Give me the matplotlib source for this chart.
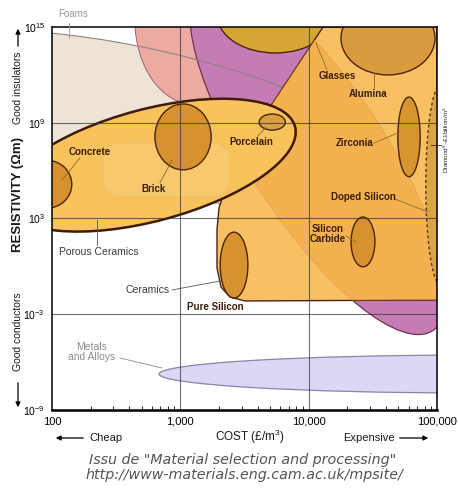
import numpy as np
import matplotlib
matplotlib.use("Agg")
import matplotlib.pyplot as plt
from matplotlib.patches import Ellipse, Polygon, FancyBboxPatch, FancyArrowPatch
from matplotlib.lines import Line2D
from matplotlib.ticker import LogLocator, NullLocator

plt.rcParams['font.family'] = ['Liberation Sans', 'DejaVu Sans']
plt.rcParams['mathtext.default'] = 'regular'

# ---------------- data ----------------
COST_TICKS = [100, 1000, 10000, 100000]
COST_TICK_LABELS = ['100', '1,000', '10,000', '100,000']
RES_TICKS = [1e-9, 1e-3, 1e3, 1e9, 1e15]
RES_TICK_LABELS = [r'$10^{-9}$', r'$10^{-3}$', r'$10^{3}$', r'$10^{9}$', r'$10^{15}$']
COST_LIM = [100, 100000]
RES_LIM = [1e-9, 1e15]

# material envelope centres: cost (GBP/m3), resistivity (Ohm m)
MATERIALS = ['Foams', 'Pink group', 'Purple group', 'Glasses', 'Alumina', 'Zirconia',
             'Diamond', 'Silicon Carbide', 'Pure Silicon', 'Porous Ceramics',
             'Concrete', 'Brick', 'Porcelain', 'Metals and Alloys']
COST_CENTRE = [580, 1300, 11800, 5500, 41500, 60500,
               107000, 26500, 2620, 580,
               91, 1050, 5200, 180000]
RES_CENTRE = [1.5e9, 2.7e15, 9.5e6, 5.6e15, 2e14, 1.3e8,
              1.26e5, 34, 1.2, 2.2e6,
              1.4e5, 1.3e8, 1.1e9, 1.8e-7]

# technical ceramics envelope outline (cost, resistivity)
CERAMICS_COST = [12950, 100000, 100000, 3190, 2440, 2075, 1930, 1930, 2000, 2230, 2920, 3820, 5000]
CERAMICS_RES = [1e15, 1e15, 7.8e-3, 6.8e-3, 1.2e-2, 5.1e-2, 0.79, 190, 4600, 6.1e4, 4.7e6, 3.5e8, 9.7e9]

# lighter zone inside porous ceramics (cost, resistivity corners)
POROUS_ZONE_COST = [250, 2440]
POROUS_ZONE_RES = [5.4e7, 2.2e4]

# ---------------- styles ----------------
# semi-axes (fraction of axes), angle, face, edge, lw, linestyle, zorder
STYLE = {
    'Foams':            (0.677, 0.182, -13, '#EEE3D7', 'none', 0, '-', 1),
    'Pink group':       (0.156, 0.221, 0, '#EDAAA2', '#9A6A60', 0.7, '-', 2),
    'Purple group':     (0.547, 0.177, -57, '#C57CB4', '#6B3550', 0.9, '-', 3),
    'Glasses':          (0.151, 0.099, 0, '#D6A632', '#4A2410', 1.0, '-', 4),
    'Alumina':          (0.122, 0.096, 0, '#D99B3E', '#4A2410', 1.0, '-', 6),
    'Zirconia':         (0.029, 0.104, 0, '#D6952F', '#4A2410', 1.0, '-', 6),
    'Diamond':          (0.039, 0.262, 0, '#DBA545', '#5A2E10', 1.0, (0, (2, 2)), 6),
    'Silicon Carbide':  (0.031, 0.065, 0, '#D6922F', '#4A2410', 1.0, '-', 6),
    'Pure Silicon':     (0.036, 0.086, 0, '#D6922F', '#4A2410', 1.0, '-', 6),
    'Porous Ceramics':  (0.39, 0.146, 15, '#F8C35C', '#3E1A08', 1.8, '-', 7),
    'Concrete':         (0.065, 0.0625, 0, '#D6922F', '#4A2410', 1.0, '-', 8),
    'Brick':            (0.073, 0.086, 0, '#D6922F', '#4A2410', 1.0, '-', 8),
    'Porcelain':        (0.034, 0.021, 0, '#D9A043', '#4A2410', 1.0, '-', 8),
    'Metals and Alloys':(0.807, 0.0495, 0, '#DCD7F5', '#8A84A8', 0.9, '-', 3),
}

W, H, DPI = 4.58, 4.97, 100
fig = plt.figure(figsize=(W, H), dpi=DPI)
fig.patch.set_facecolor('white')
ax = fig.add_axes([52/458, 1-410/497, 385/458, 383/497])
ax.set_xscale('log')
ax.set_yscale('log')
ax.set_xlim(COST_LIM)
ax.set_ylim(RES_LIM)
ax.set_facecolor('white')

def to_axes(pt):
    return ax.transAxes.inverted().transform(ax.transData.transform(pt))

def P(px, py):
    return (px/458.0, 1 - py/497.0)

ellipses = {}
for name, c, r in zip(MATERIALS, COST_CENTRE, RES_CENTRE):
    a, b, ang, fc, ec, lw, ls, z = STYLE[name]
    cx, cy = to_axes((c, r))
    e = Ellipse((cx, cy), 2*a, 2*b, angle=ang, transform=ax.transAxes,
                facecolor=fc, edgecolor=ec, lw=lw, linestyle=ls, zorder=z)
    ax.add_patch(e)
    ellipses[name] = e

# foams outline (visible across pink / purple)
a, b, ang = STYLE['Foams'][:3]
cx, cy = to_axes((COST_CENTRE[0], RES_CENTRE[0]))
ax.add_patch(Ellipse((cx, cy), 2*a, 2*b, angle=ang, transform=ax.transAxes,
                     facecolor='none', edgecolor='#8E8480', lw=0.8, zorder=3.5))

# technical ceramics envelope
env = Polygon(np.column_stack([CERAMICS_COST, CERAMICS_RES]), closed=True,
              facecolor='#F8C062', edgecolor='#4A2410', lw=1.0, zorder=5)
ax.add_patch(env)
# darker band where polymers envelope lies beneath
a, b, ang = STYLE['Purple group'][:3]
cx, cy = to_axes((COST_CENTRE[2], RES_CENTRE[2]))
band = Ellipse((cx, cy), 2*a, 2*b, angle=ang, transform=ax.transAxes,
               facecolor='#F1A540', edgecolor='#E49B48', lw=0.8, alpha=0.55, zorder=5.1)
ax.add_patch(band)
band.set_clip_path(env)

# lighter zone inside porous ceramics
(x0, y0) = to_axes((POROUS_ZONE_COST[0], POROUS_ZONE_RES[1]))
(x1, y1) = to_axes((POROUS_ZONE_COST[1], POROUS_ZONE_RES[0]))
ax.add_patch(FancyBboxPatch((x0, y0), x1-x0, y1-y0,
                            boxstyle='round,pad=0,rounding_size=0.05',
                            transform=ax.transAxes, facecolor='#F9CD78',
                            edgecolor='#EDB75E', lw=0.6, alpha=0.6, zorder=7.1))

# faint labels inside envelope
for txt, px, py in [('Dust and', 244, 242), ('Products', 250, 261), ('Inorganics', 248, 287)]:
    fig.text(*P(px, py), txt, fontsize=7, color='#C98A2A', alpha=0.35,
             ha='left', va='center', zorder=-1)

# grid lines
for xv in COST_TICKS[1:-1]:
    ax.axvline(xv, color='#333333', lw=0.8, alpha=0.7, zorder=9)
for yv in RES_TICKS[1:-1]:
    ax.axhline(yv, color='#333333', lw=0.8, alpha=0.7, zorder=9)

ax.set_xticks(COST_TICKS)
ax.set_xticklabels(COST_TICK_LABELS, fontsize=8)
ax.set_yticks(RES_TICKS)
ax.set_yticklabels(RES_TICK_LABELS, fontsize=7.5)
ax.xaxis.set_minor_locator(LogLocator(base=10, subs=np.arange(2, 10)))
ax.yaxis.set_minor_locator(NullLocator())
ax.tick_params(axis='both', which='major', length=0)
ax.tick_params(axis='x', which='major', pad=5)
ax.tick_params(axis='y', which='major', pad=5)
ax.tick_params(axis='x', which='minor', direction='in', length=3, width=0.6, labelbottom=False)
for s in ['top', 'left', 'right']:
    ax.spines[s].set_linewidth(1.1)
    ax.spines[s].set_zorder(20)
ax.spines['bottom'].set_linewidth(1.8)
ax.spines['bottom'].set_zorder(20)

# ------------- labels -------------
BROWN = '#3B1E08'
LEAD = '#8A6A28'
def lab(txt, px, py, color=BROWN, size=7, weight='bold', ha='center', **kw):
    fig.text(*P(px, py), txt, fontsize=size, color=color, fontweight=weight,
             ha=ha, va='center', zorder=12, linespacing=1.1, **kw)
def lead(p1, p2, color=LEAD, lw=0.6):
    (x1, y1), (x2, y2) = P(*p1), P(*p2)
    fig.add_artist(Line2D([x1, x2], [y1, y2], color=color, lw=lw, zorder=11))

lab('Concrete', 90, 152); lead((80, 158), (62, 180))
lab('Brick', 154, 189); lead((160, 183), (172, 160))
lab('Porcelain', 251, 142); lead((258, 136), (266, 127))
lab('Glasses', 337, 76); lead((327, 70), (316, 43))
lab('Alumina', 368, 94); lead((374, 88), (374, 73))
lab('Zirconia', 355, 143); lead((374, 143), (400, 132))
lab('Doped Silicon', 363, 197); lead((395, 199), (428, 212))
lab('Silicon\nCarbide', 328, 234); lead((346, 236), (356, 242))
lab('Pure Silicon', 215, 307)
lab('Porous Ceramics', 99, 252, color='#3A3A3A', size=7.5, weight='normal'); lead((97, 245), (97, 220), color='#555555')
lab('Ceramics', 148, 290, color='#3A3A3A', size=7.5, weight='normal'); lead((172, 290), (220, 281), color='#555555')
lab('Metals\nand Alloys', 92, 352, color='#8C8C8C', size=7.5, weight='normal'); lead((120, 358), (162, 368), color='#8C8C8C')
lab('Foams', 73, 14, color='#9A9A9A', size=7, weight='normal'); lead((69, 23), (69, 38), color='#9A9A9A')
lab(r'Diamond$^{8}$~£1billion/m$^{3}$', 446, 140, color='#2A2A2A', size=4.6, weight='normal', rotation=90)
lead((431, 145), (441, 145), color='#3A2A10')

# axis side texts
def arrow(p_from, p_to):
    fig.add_artist(FancyArrowPatch(P(*p_from), P(*p_to),
                   transform=fig.transFigure, arrowstyle='-|>', mutation_scale=7,
                   color='black', lw=0.9, zorder=12))
SIDE_X = 18
lab('Good insulators', SIDE_X, 88, color='#1A1A1A', size=7.5, weight='normal', rotation=90)
arrow((SIDE_X, 49), (SIDE_X, 26))
lab('RESISTIVITY (Ωm)', SIDE_X, 195, color='#1A1A1A', size=9.5, weight='bold', rotation=90)
lab('Good conductors', SIDE_X, 332, color='#1A1A1A', size=7.5, weight='normal', rotation=90)
arrow((SIDE_X, 380), (SIDE_X, 410))

lab('Cheap', 106, 438, color='#1A1A1A', size=8, weight='normal')
arrow((86, 438), (53, 438))
lab('COST (£/m$^{3}$)', 250, 437, color='#1A1A1A', size=8.5, weight='normal')
lab('Expensive', 369, 438, color='#1A1A1A', size=8, weight='normal')
arrow((397, 438), (431, 438))

# caption
CAP_FONT = ['DejaVu Sans']
fig.text(*P(243, 460), 'Issu de "Material selection and processing"', fontsize=10.3,
         style='italic', color='#555555', ha='center', va='center', family=CAP_FONT)
fig.text(*P(244, 475), 'http://www-materials.eng.cam.ac.uk/mpsite/', fontsize=10.3,
         style='italic', color='#555555', ha='center', va='center', family=CAP_FONT)

fig.savefig('out.png', dpi=DPI, facecolor='white')
